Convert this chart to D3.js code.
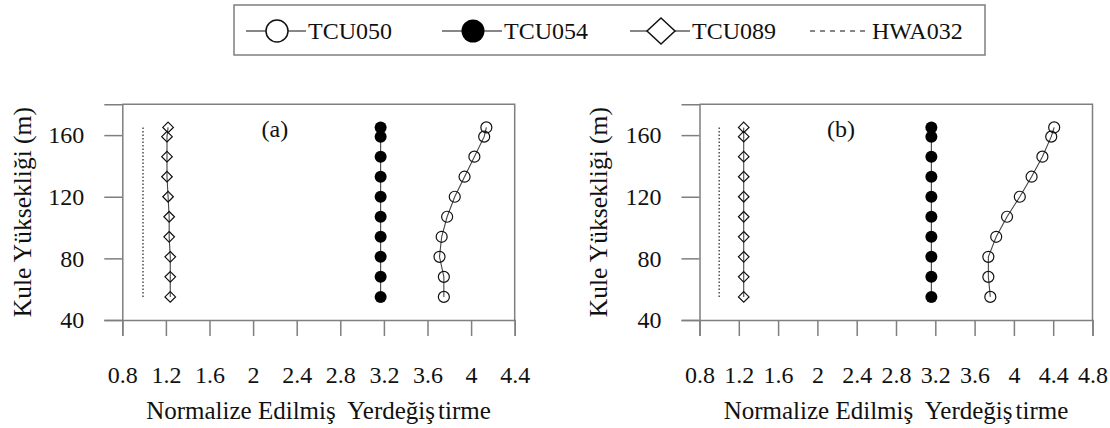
<!DOCTYPE html>
<html>
<head>
<meta charset="utf-8">
<script src="https://cdn.jsdelivr.net/npm/d3@7"></script>
<style>
  body { margin: 0; background: #fff; }
  svg text { font-family: "Liberation Serif", Tinos, "Times New Roman", "Nimbus Roman", "DejaVu Serif", serif !important; }
</style>
</head>
<body>
<div id="chart"></div>
<script>
// tower heights (m), shared by every series
var heights = [55, 68, 81, 94, 107, 120, 133, 146, 159, 165];

// panel (a) values
var tcu050A = [3.75, 3.75, 3.71, 3.73, 3.78, 3.85, 3.94, 4.03, 4.12, 4.14];
var tcu054A = [3.17, 3.17, 3.17, 3.17, 3.17, 3.17, 3.17, 3.17, 3.17, 3.17];
var tcu089A = [1.24, 1.24, 1.24, 1.23, 1.23, 1.22, 1.21, 1.21, 1.21, 1.22];
var hwa032A = [0.99, 0.99, 0.99, 0.99, 0.99, 0.99, 0.99, 0.99, 0.99, 0.99];

// panel (b) values
var tcu050B = [3.76, 3.74, 3.74, 3.82, 3.93, 4.06, 4.18, 4.29, 4.38, 4.41];
var tcu054B = [3.16, 3.16, 3.16, 3.16, 3.16, 3.16, 3.16, 3.16, 3.16, 3.16];
var tcu089B = [1.25, 1.25, 1.25, 1.25, 1.25, 1.25, 1.25, 1.25, 1.25, 1.25];
var hwa032B = [1.0, 1.0, 1.0, 1.0, 1.0, 1.0, 1.0, 1.0, 1.0, 1.0];

// ticks
var xTicksA = [0.8, 1.2, 1.6, 2, 2.4, 2.8, 3.2, 3.6, 4, 4.4];
var xTicksB = [0.8, 1.2, 1.6, 2, 2.4, 2.8, 3.2, 3.6, 4, 4.4, 4.8];
var yTicks = [40, 80, 120, 160];

var seriesNames = ["TCU050", "TCU054", "TCU089", "HWA032"];
var xTitle = "Normalize Edilmiş  Yerdeğiş";
var xTitleEnd = "tirme";
var yTitle = "Kule Yüksekliği (m)";

var width = 1110, height = 428;
var frameColor = "#7f7f7f";
var serif = "Liberation Serif";
var fontSize = 24,
    titleSize = 25;

var svg = d3.select("#chart").append("svg")
    .attr("width", width)
    .attr("height", height)
    .attr("font-family", serif);

svg.append("rect")
    .attr("width", width).attr("height", height)
    .attr("fill", "#fff");

function zip(xs) {
    return xs.map(function(v, i) { return {x: v, y: heights[i]}; });
}

// draws one panel; box = [left, top, right, bottom]
function drawPanel(box, xDomain, xTicks, series, tag, tagX, titleX) {
    var x = d3.scaleLinear().domain(xDomain).range([box[0], box[2]]);
    var y = d3.scaleLinear().domain([40, 180]).range([box[3], box[1]]);
    var g = svg.append("g");

    // frame top + right
    g.append("path")
        .attr("d", "M" + box[0] + "," + box[1] + "H" + box[2] + "V" + box[3])
        .attr("fill", "none")
        .attr("stroke", frameColor)
        .attr("stroke-width", 1.5);

    var fmt = function(d) { return String(+d.toFixed(1)); };

    var xa = g.append("g")
        .attr("transform", "translate(0," + box[3] + ")")
        .call(d3.axisBottom(x).tickValues(xTicks).tickFormat(fmt).tickSize(16).tickPadding(30));
    var ya = g.append("g")
        .attr("transform", "translate(" + box[0] + ",0)")
        .call(d3.axisLeft(y).tickValues(yTicks).tickSize(18).tickPadding(20));

    [xa, ya].forEach(function(a) {
        a.attr("font-family", serif).attr("font-size", fontSize);
        a.select(".domain").attr("stroke", frameColor).attr("stroke-width", 1.5);
        a.selectAll(".tick line").attr("stroke", frameColor).attr("stroke-width", 1.5);
        a.selectAll(".tick text").attr("fill", "#111");
    });

    var line = d3.line().x(function(d) { return x(d.x); }).y(function(d) { return y(d.y); });

    // HWA032 dotted reference
    g.append("path")
        .datum(zip(series.hwa))
        .attr("d", line)
        .attr("fill", "none")
        .attr("stroke", "#222")
        .attr("stroke-width", 1.2)
        .attr("stroke-dasharray", "1.5,2");

    [series.tcu089, series.tcu054, series.tcu050].forEach(function(s) {
        g.append("path")
            .datum(zip(s))
            .attr("d", line)
            .attr("fill", "none")
            .attr("stroke", "#444")
            .attr("stroke-width", 1.1);
    });

    // markers
    g.selectAll(".dia").data(zip(series.tcu089)).enter()
        .append("path")
        .attr("d", function(d) {
            var cx = x(d.x), cy = y(d.y), r = 5.3;
            return "M" + cx + "," + (cy - r) + "L" + (cx + r) + "," + cy + "L" + cx + "," + (cy + r) + "L" + (cx - r) + "," + cy + "Z";
        })
        .attr("fill", "none")
        .attr("stroke", "#111")
        .attr("stroke-width", 1.2);

    g.selectAll(".full").data(zip(series.tcu054)).enter()
        .append("circle")
        .attr("cx", function(d) { return x(d.x); })
        .attr("cy", function(d) { return y(d.y); })
        .attr("r", 6)
        .attr("fill", "#000");

    g.selectAll(".open").data(zip(series.tcu050)).enter()
        .append("circle")
        .attr("cx", function(d) { return x(d.x); })
        .attr("cy", function(d) { return y(d.y); })
        .attr("r", 5.5)
        .attr("fill", "none")
        .attr("stroke", "#111")
        .attr("stroke-width", 1.2);

    // panel tag
    g.append("text")
        .attr("x", x(tagX)).attr("y", y(164) + 8)
        .attr("text-anchor", "middle")
        .attr("fill", "#111")
        .attr("font-size", fontSize)
        .text(tag);

    // axis titles
    var t = g.append("text")
        .attr("x", (box[0] + box[2]) / 2).attr("y", 419)
        .attr("text-anchor", "middle")
        .attr("fill", "#111")
        .attr("xml:space", "preserve")
        .style("white-space", "pre")
        .attr("font-size", titleSize);
    t.append("tspan").text(xTitle);
    t.append("tspan").attr("dx", 3).text(xTitleEnd);

    g.append("text")
        .attr("transform", "translate(" + titleX + "," + (box[1] + box[3]) / 2 + ") rotate(-90)")
        .attr("text-anchor", "middle")
        .attr("fill", "#111")
        .attr("font-size", titleSize + 0.5)
        .text(yTitle);
}

drawPanel([122.3, 104.3, 514.7, 320], [0.8, 4.4], xTicksA,
    {tcu050: tcu050A, tcu054: tcu054A, tcu089: tcu089A, hwa: hwa032A}, "(a)", 2.2, 31);
drawPanel([699.5, 104.3, 1092.5, 320], [0.8, 4.8], xTicksB,
    {tcu050: tcu050B, tcu054: tcu054B, tcu089: tcu089B, hwa: hwa032B}, "(b)", 2.24, 607);

// legend
var legend = svg.append("g");
legend.append("rect")
    .attr("x", 234).attr("y", 5).attr("width", 751).attr("height", 50)
    .attr("fill", "#fff")
    .attr("stroke", frameColor)
    .attr("stroke-width", 1.5);

var legendX = [246, 442, 630, 810];
var ly = 31;
seriesNames.forEach(function(name, i) {
    var x0 = legendX[i], x1 = x0 + 60, cx = x0 + 31;
    var item = legend.append("g");
    item.append("line")
        .attr("x1", x0).attr("x2", x1).attr("y1", ly).attr("y2", ly)
        .attr("stroke", "#111")
        .attr("stroke-width", 1.2)
        .attr("stroke-dasharray", i === 3 ? "5,5" : null);
    if (i === 0) {
        item.append("circle").attr("cx", cx).attr("cy", ly).attr("r", 11)
            .attr("fill", "#fff").attr("stroke", "#111").attr("stroke-width", 1.5);
    } else if (i === 1) {
        item.append("circle").attr("cx", cx).attr("cy", ly).attr("r", 11.5).attr("fill", "#000");
    } else if (i === 2) {
        item.append("path")
            .attr("d", "M" + cx + "," + (ly - 13) + "L" + (cx + 14) + "," + ly + "L" + cx + "," + (ly + 13) + "L" + (cx - 14) + "," + ly + "Z")
            .attr("fill", "#fff").attr("stroke", "#111").attr("stroke-width", 1.5);
    }
    item.append("text")
        .attr("x", x1 + 2).attr("y", ly + 8)
        .attr("fill", "#111")
        .attr("font-size", fontSize)
        .text(name);
});
</script>
</body>
</html>
